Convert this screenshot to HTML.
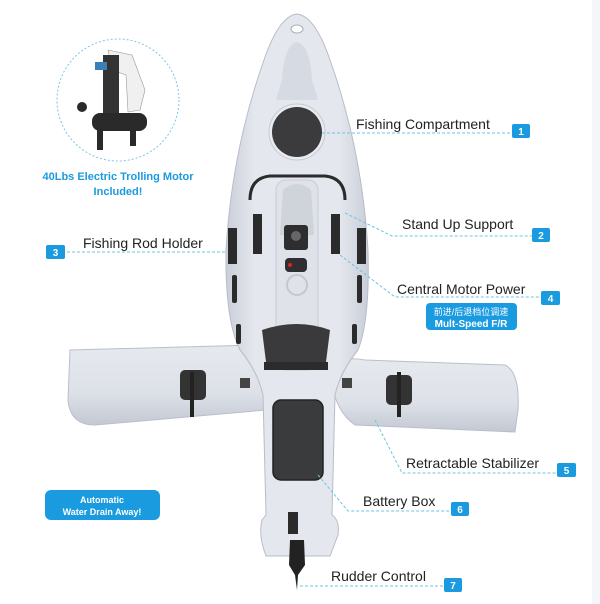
<!DOCTYPE html>
<html><head><meta charset="utf-8"><style>
html,body{margin:0;padding:0;background:#fff;}
svg{display:block}
text{font-family:"Liberation Sans","Noto Sans CJK SC",sans-serif}
</style></head><body>
<svg width="600" height="604" viewBox="0 0 600 604" xmlns="http://www.w3.org/2000/svg">
<defs>
<linearGradient id="hull" x1="0" x2="1" y1="0" y2="0">
<stop offset="0" stop-color="#c9ced8"/><stop offset="0.2" stop-color="#e4e7ed"/><stop offset="0.8" stop-color="#e4e7ed"/><stop offset="1" stop-color="#c9ced8"/>
</linearGradient>
<linearGradient id="stab" x1="0" x2="0" y1="0" y2="1">
<stop offset="0" stop-color="#e6e9ee"/><stop offset="0.6" stop-color="#dde1e8"/><stop offset="1" stop-color="#c3c8d2"/>
</linearGradient>
</defs>
<rect x="592" y="0" width="8" height="604" fill="#f4f6f9"/>
<!-- motor circle -->
<circle cx="118" cy="100" r="61" fill="#fff" stroke="#7cc6e6" stroke-width="1" stroke-dasharray="2,2"/>
<g fill="#2a2a2a">
<path d="M108 50 L132 55 L145 90 L140 110 L128 112 L126 75 L112 70Z" fill="#f0f0f0" stroke="#999" stroke-width="0.6"/>
<rect x="103" y="55" width="16" height="60" fill="#333"/>
<rect x="92" y="113" width="55" height="18" rx="8"/>
<rect x="97" y="128" width="6" height="22"/>
<rect x="130" y="128" width="6" height="18"/>
<circle cx="82" cy="107" r="5"/>
<rect x="95" y="62" width="12" height="8" fill="#3a7fb8"/>
</g>
<text x="118" y="180" text-anchor="middle" font-size="11" font-weight="bold" fill="#1b9ade">40Lbs Electric Trolling Motor</text>
<text x="118" y="195" text-anchor="middle" font-size="11" font-weight="bold" fill="#1b9ade">Included!</text>
<!-- stabilizers -->
<path d="M70 350 L255 345 Q272 360 266 410 L95 425 Q70 425 68 400Z" fill="url(#stab)" stroke="#b9bfca" stroke-width="1"/>
<path d="M330 370 Q340 355 365 360 L505 365 Q520 372 518 410 L515 432 L355 425 Q333 410 330 370Z" fill="url(#stab)" stroke="#b9bfca" stroke-width="1"/>
<!-- hull -->
<path d="M297 14 Q315 16 330 60 Q362 150 368 250 Q370 320 358 350 Q340 372 335 395 L332 515 Q340 520 338 535 L330 556 L266 556 Q258 535 262 520 L266 515 L263 395 Q258 372 240 350 Q225 320 226 250 Q232 150 264 60 Q279 16 297 14Z" fill="url(#hull)" stroke="#b7bdc8" stroke-width="1"/>
<ellipse cx="297" cy="29" rx="6" ry="4" fill="#fff" stroke="#aab" stroke-width="1"/>
<path d="M297 42 Q310 45 312 80 L318 100 L276 100 L282 80 Q284 45 297 42Z" fill="#d6dae2"/>
<circle cx="297" cy="132" r="28" fill="#e8ebf0" stroke="#c5cad3"/>
<circle cx="297" cy="132" r="25" fill="#3b3b3d"/>
<path d="M250 200 Q250 178 270 176 L325 176 Q345 178 345 200" fill="none" stroke="#2b2b2b" stroke-width="3"/>
<rect x="276" y="180" width="42" height="190" rx="10" fill="#dfe2e8" stroke="#c8ccd4"/>
<path d="M283 190 Q297 178 311 190 L314 235 L280 235Z" fill="#cfd3da"/>
<rect x="284" y="225" width="24" height="25" rx="3" fill="#2e2e30"/>
<circle cx="296" cy="236" r="5" fill="#666"/>
<rect x="285" y="258" width="22" height="14" rx="4" fill="#2f2f31"/>
<circle cx="290" cy="265" r="2" fill="#d22"/>
<circle cx="297" cy="285" r="10" fill="none" stroke="#c3c8d0" stroke-width="2"/>
<g fill="#2b2b2b">
<rect x="253" y="214" width="9" height="40"/><rect x="331" y="214" width="9" height="40"/>
<rect x="228" y="228" width="9" height="36"/><rect x="357" y="228" width="9" height="36"/>
<rect x="232" y="275" width="5" height="28" rx="2"/><rect x="357" y="275" width="5" height="28" rx="2"/>
<rect x="236" y="324" width="5" height="20" rx="2"/><rect x="352" y="324" width="5" height="20" rx="2"/>
</g>
<path d="M262 330 Q297 318 330 330 L326 362 L266 362Z" fill="#3a3a3c"/>
<rect x="264" y="362" width="64" height="8" fill="#2b2b2b"/>
<rect x="273" y="400" width="50" height="80" rx="8" fill="#3a3b3d" stroke="#222" stroke-width="1.5"/>
<rect x="240" y="378" width="10" height="10" fill="#444"/>
<rect x="342" y="378" width="10" height="10" fill="#444"/>
<rect x="180" y="370" width="26" height="30" rx="5" fill="#333"/>
<rect x="190" y="372" width="4" height="45" fill="#222"/>
<rect x="386" y="375" width="26" height="30" rx="5" fill="#333"/>
<rect x="397" y="372" width="4" height="45" fill="#222"/>
<rect x="288" y="512" width="10" height="22" fill="#2b2b2b"/>
<path d="M290 540 L304 540 L305 565 L298 575 L297 590 L295 575 L289 565Z" fill="#222"/>
<!-- leader lines -->
<g fill="none" stroke="#6ec3e6" stroke-width="1" stroke-dasharray="3,2">
<path d="M322 133 L512 133"/>
<path d="M345 213 L392 236 L532 236"/>
<path d="M67 252 L225 252"/>
<path d="M340 255 L395 297 L541 297"/>
<path d="M375 420 L402 473 L557 473"/>
<path d="M318 475 L348 511 L451 511"/>
<path d="M300 586 L444 586"/>
</g>
<g font-size="14" fill="#222">
<text x="356" y="129">Fishing Compartment</text>
<text x="402" y="229">Stand Up Support</text>
<text x="83" y="248">Fishing Rod Holder</text>
<text x="397" y="294">Central Motor Power</text>
<text x="406" y="468">Retractable Stabilizer</text>
<text x="363" y="506">Battery Box</text>
<text x="331" y="581">Rudder Control</text>
</g>
<g fill="#1a9be0">
<rect x="512" y="124" width="18" height="14" rx="2"/>
<rect x="532" y="228" width="18" height="14" rx="2"/>
<rect x="46" y="245" width="19" height="14" rx="2"/>
<rect x="541" y="291" width="19" height="14" rx="2"/>
<rect x="557" y="463" width="19" height="14" rx="2"/>
<rect x="451" y="502" width="18" height="14" rx="2"/>
<rect x="444" y="578" width="18" height="14" rx="2"/>
<rect x="426" y="303" width="91" height="27" rx="4"/>
<rect x="45" y="490" width="115" height="30" rx="6"/>
</g>
<g font-size="10" font-weight="bold" fill="#fff" text-anchor="middle">
<text x="521" y="135">1</text><text x="541" y="239">2</text><text x="55.5" y="256">3</text>
<text x="550.5" y="302">4</text><text x="566.5" y="474">5</text><text x="460" y="513">6</text><text x="453" y="589">7</text>
<text x="471" y="315" font-size="9" font-weight="normal">前进/后退档位调速</text>
<text x="471" y="327" font-size="10">Mult-Speed F/R</text>
<text x="102" y="503" font-size="9">Automatic</text>
<text x="102" y="515" font-size="9">Water Drain Away!</text>
</g>
</svg>
</body></html>
